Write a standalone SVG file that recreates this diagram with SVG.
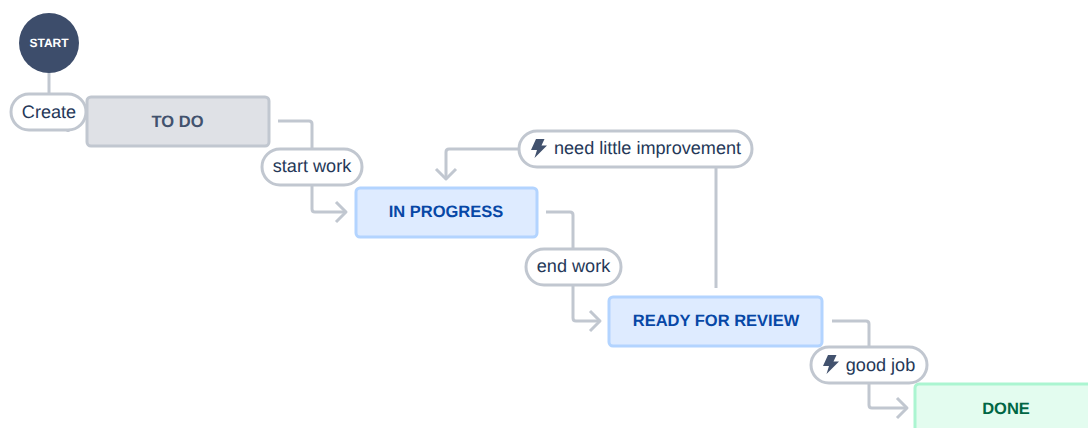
<svg xmlns="http://www.w3.org/2000/svg" width="1088" height="428" viewBox="0 0 1088 428">
<style>
text{font-family:"Liberation Sans",Arial,sans-serif;text-anchor:middle;text-rendering:geometricPrecision}
.c{fill:none;stroke:#c1c7d0;stroke-width:3;stroke-linejoin:round}
.p{fill:#fff;stroke:#c1c7d0;stroke-width:3}
.l{font-size:18.100px;fill:#253858}
.s{font-size:16.500px;font-weight:bold}
.b{fill:#42526e}
</style>
<defs><path id="bolt" d="M5 0 L13.500 0 L10.500 6.500 L16 6.500 L3.500 19 L6 11 L0 11 Z"/></defs>
<rect width="1088" height="428" fill="#fff"/>
<g id="connectors">
<path class="c" d="M49 70V94"/>
<path class="c" d="M68 128V132"/>
<path class="c" d="M278 121H309Q312 121 312 124V150"/>
<path class="c" d="M312 184V209Q312 212 315 212H345"/>
<path class="c" d="M336 202L346 212L336 222"/>
<path class="c" d="M519 149H449Q446 149 446 152V178"/>
<path class="c" d="M436 169L446 179L456 169"/>
<path class="c" d="M546 212H570Q573 212 573 215V249"/>
<path class="c" d="M573 285V318Q573 321 576 321H600"/>
<path class="c" d="M590 311L600 321L590 331"/>
<path class="c" d="M716 167V288"/>
<path class="c" d="M832 321H866Q869 321 869 324V347"/>
<path class="c" d="M869 383V405Q869 408 872 408H906"/>
<path class="c" d="M897 398L907 408L897 418"/>
</g>
<g id="start"><circle cx="49" cy="43" r="30" fill="#3d4d6b"/><text x="49" y="47" font-size="12" font-weight="bold" fill="#fff">START</text></g>
<g id="create"><rect class="p" x="11" y="94" width="75" height="36" rx="18"/><text class="l" x="49" y="118">Create</text></g>
<g id="todo"><rect x="87" y="97" width="182" height="49" rx="4" fill="#dfe1e6" stroke="#c1c7d0" stroke-width="3"/><text class="s" x="177.500" y="127" fill="#42526e">TO DO</text></g>
<g id="start-work"><rect class="p" x="262" y="149" width="100" height="36" rx="18"/><text class="l" x="312" y="172">start work</text></g>
<g id="in-progress"><rect x="356" y="188" width="181" height="49" rx="4" fill="#deebff" stroke="#b3d4ff" stroke-width="3"/><text class="s" x="446" y="217" fill="#0747a6">IN PROGRESS</text></g>
<g id="need-little-improvement"><rect class="p" x="519" y="131" width="233" height="36" rx="18"/><use href="#bolt" class="b" x="531" y="139"/><text class="l" x="647.500" y="154">need little improvement</text></g>
<g id="end-work"><rect class="p" x="526" y="249" width="95" height="36" rx="18"/><text class="l" x="573.500" y="272">end work</text></g>
<g id="ready-for-review"><rect x="609" y="297" width="213" height="49" rx="4" fill="#deebff" stroke="#b3d4ff" stroke-width="3"/><text class="s" x="716" y="326" fill="#0747a6">READY FOR REVIEW</text></g>
<g id="good-job"><rect class="p" x="811" y="347" width="116" height="36" rx="18"/><use href="#bolt" class="b" x="823" y="355"/><text class="l" x="880.500" y="371">good job</text></g>
<g id="done"><rect x="915" y="384" width="182" height="49" rx="4" fill="#e3fcef" stroke="#abf5d1" stroke-width="3"/><text class="s" x="1006" y="414" fill="#006644">DONE</text></g>
</svg>
